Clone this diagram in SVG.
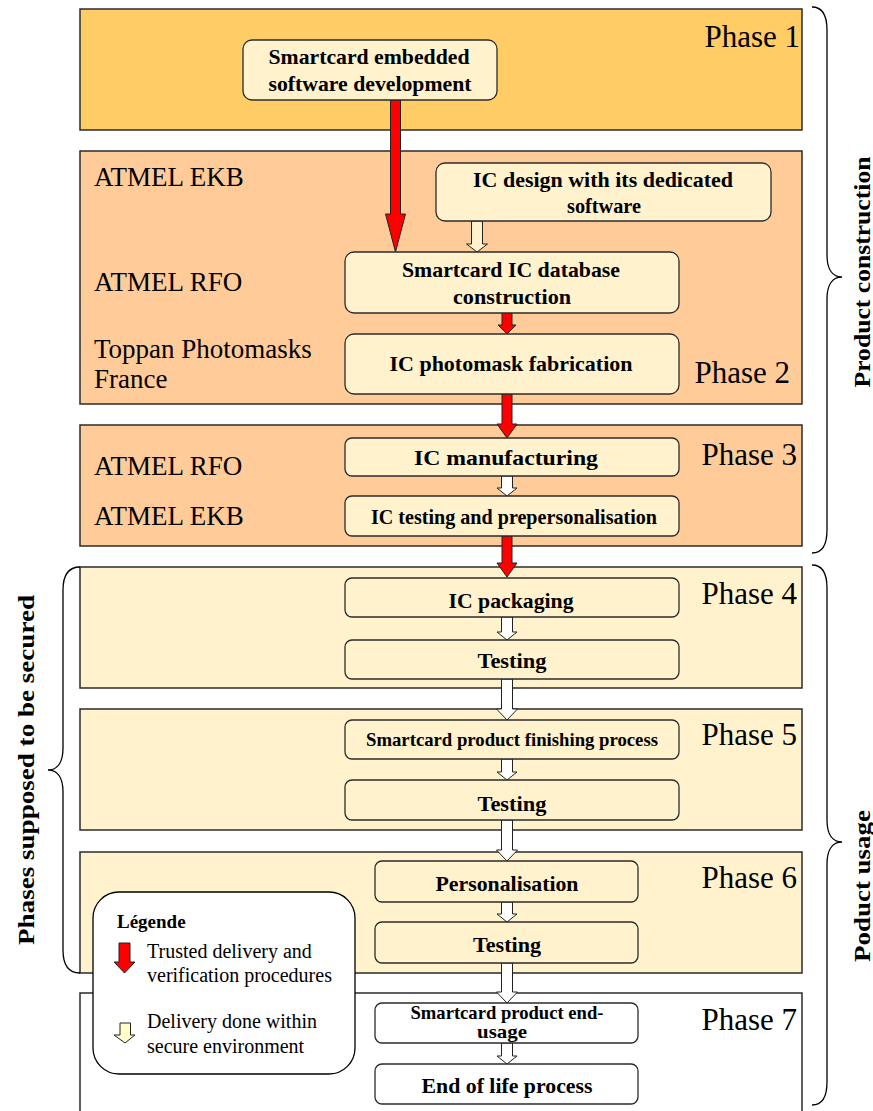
<svg xmlns="http://www.w3.org/2000/svg" width="873" height="1111" viewBox="0 0 873 1111">
<style>
text{font-family:'Liberation Serif','Times New Roman',Tinos,'DejaVu Serif',serif}
.phase{stroke:#2b2b2b;stroke-width:1.5}
.node{fill:#FFF2CC;stroke:#2b2b2b;stroke-width:1.3}
.ph{font-size:31px;text-anchor:end;fill:#000}
.lab{font-size:27px;fill:#000}
.nt{font-size:21px;font-weight:bold;text-anchor:middle;fill:#000}
.br{font-size:24px;font-weight:bold;text-anchor:middle;fill:#000}
.lg{font-size:20px;fill:#000}
.red{fill:#FF0000;stroke:#222;stroke-width:1}
.hol{fill:#FFFFFF;stroke:#222;stroke-width:1}
.brace{fill:none;stroke:#000;stroke-width:1.3}
</style>
<rect width="873" height="1111" fill="#FFFFFF"/>
<g id="phases">
<g id="phase1"><rect class="phase" x="80" y="9" width="722" height="121" fill="#FFCC66"/><text class="ph" x="800" y="47">Phase 1</text></g>
<g id="phase2"><rect class="phase" x="80" y="151" width="722" height="253" fill="#FFCC99"/><text class="ph" x="790" y="383">Phase 2</text>
<text class="lab" x="94" y="186">ATMEL EKB</text>
<text class="lab" x="94" y="291">ATMEL RFO</text>
<text class="lab" x="94" y="358">Toppan Photomasks</text>
<text class="lab" x="94" y="388">France</text></g>
<g id="phase3"><rect class="phase" x="80" y="425" width="722" height="121" fill="#FFCC99"/><text class="ph" x="797" y="465">Phase 3</text>
<text class="lab" x="94" y="475">ATMEL RFO</text>
<text class="lab" x="94" y="525">ATMEL EKB</text></g>
<g id="phase4"><rect class="phase" x="80" y="567" width="722" height="121" fill="#FFF2CC"/><text class="ph" x="797" y="604">Phase 4</text></g>
<g id="phase5"><rect class="phase" x="80" y="709" width="722" height="121" fill="#FFF2CC"/><text class="ph" x="797" y="745">Phase 5</text></g>
<g id="phase6"><rect class="phase" x="80" y="852" width="722" height="121" fill="#FFF2CC"/><text class="ph" x="797" y="888">Phase 6</text></g>
<g id="phase7"><rect class="phase" x="80" y="993" width="722" height="130" fill="#FFFFFF"/><text class="ph" x="797" y="1030">Phase 7</text></g>
</g>
<g id="braces">
<path class="brace" d="M80 567 C69 567 63 574 63 590 L63 748 C63 763 57 770 48 770 C57 770 63 777 63 792 L63 950 C63 966 69 973 80 973"/>
<path class="brace" d="M812 7 C822 7 827 14 827 30 L827 255 C827 270 833 277 842 277 C833 277 827 284 827 299 L827 530 C827 546 822 553 812 553"/>
<path class="brace" d="M812 565 C822 565 827 572 827 588 L827 820 C827 835 833 842 842 842 C833 842 827 849 827 864 L827 1082 C827 1098 822 1105 812 1105"/>
<text class="br" transform="translate(870 272) rotate(-90)" textLength="231" lengthAdjust="spacingAndGlyphs">Product construction</text>
<text class="br" transform="translate(870 886) rotate(-90)" textLength="152" lengthAdjust="spacingAndGlyphs">Poduct usage</text>
<text class="br" transform="translate(34 770) rotate(-90)" textLength="350" lengthAdjust="spacingAndGlyphs">Phases supposed to be secured</text>
</g>
<g id="connectors">
<path class="red" d="M390.5 100 L400.5 100 L400.5 214 L405.5 214 L395.5 252 L385.5 214 L390.5 214 Z"/>
<path class="red" d="M502 313 L512 313 L512 325 L516 325 L507 334 L498 325 L502 325 Z"/>
<path class="red" d="M502 394 L512 394 L512 424 L517 424 L507 438 L497 424 L502 424 Z"/>
<path class="red" d="M502 536 L512 536 L512 563 L517 563 L507 577 L497 563 L502 563 Z"/>
<path class="hol" style="fill:#FFF2CC" d="M471.5 221 L482.5 221 L482.5 244 L487.5 244 L477 252 L466.5 244 L471.5 244 Z"/>
<path class="hol" d="M501.5 476 L512.5 476 L512.5 488 L517 488 L507 496 L497 488 L501.5 488 Z"/>
<path class="hol" d="M501.5 617 L512.5 617 L512.5 632 L517 632 L507 640 L497 632 L501.5 632 Z"/>
<path class="hol" d="M501.5 679 L512.5 679 L512.5 709 L517.5 709 L507 720 L496.5 709 L501.5 709 Z"/>
<path class="hol" d="M501.5 759 L512.5 759 L512.5 772 L517 772 L507 780 L497 772 L501.5 772 Z"/>
<path class="hol" d="M501.5 820 L512.5 820 L512.5 850 L517.5 850 L507 861 L496.5 850 L501.5 850 Z"/>
<path class="hol" d="M501.5 902 L512.5 902 L512.5 914 L517 914 L507 922 L497 914 L501.5 914 Z"/>
<path class="hol" d="M501.5 963 L512.5 963 L512.5 992 L517.5 992 L507 1003 L496.5 992 L501.5 992 Z"/>
<path class="hol" d="M501.5 1043 L512.5 1043 L512.5 1056 L517 1056 L507 1064 L497 1056 L501.5 1056 Z"/>
</g>
<g id="n-software"><rect class="node" x="243" y="40" width="254" height="60" rx="9"/><text class="nt" x="369" y="64" textLength="201" lengthAdjust="spacingAndGlyphs">Smartcard embedded</text><text class="nt" x="370" y="91" textLength="203" lengthAdjust="spacingAndGlyphs">software development</text></g>
<g id="n-icdesign"><rect class="node" x="436" y="163" width="335" height="58" rx="9"/><text class="nt" x="603" y="187" textLength="260" lengthAdjust="spacingAndGlyphs">IC design with its dedicated</text><text class="nt" x="604" y="213" textLength="74" lengthAdjust="spacingAndGlyphs">software</text></g>
<g id="n-database"><rect class="node" x="345" y="252" width="334" height="61" rx="9"/><text class="nt" x="511" y="277" textLength="218" lengthAdjust="spacingAndGlyphs">Smartcard IC database</text><text class="nt" x="512" y="304" textLength="118" lengthAdjust="spacingAndGlyphs">construction</text></g>
<g id="n-photomask"><rect class="node" x="345" y="334" width="334" height="60" rx="9"/><text class="nt" x="511" y="371" textLength="243" lengthAdjust="spacingAndGlyphs">IC photomask fabrication</text></g>
<g id="n-manufacturing"><rect class="node" x="345" y="438" width="334" height="38" rx="7"/><text class="nt" x="506" y="465" textLength="184" lengthAdjust="spacingAndGlyphs">IC manufacturing</text></g>
<g id="n-testing-pre"><rect class="node" x="345" y="496" width="334" height="40" rx="7"/><text class="nt" x="514" y="524" textLength="286" lengthAdjust="spacingAndGlyphs">IC testing and prepersonalisation</text></g>
<g id="n-packaging"><rect class="node" x="345" y="578" width="334" height="39" rx="7"/><text class="nt" x="511" y="608" textLength="125" lengthAdjust="spacingAndGlyphs">IC packaging</text></g>
<g id="n-testing4"><rect class="node" x="345" y="640" width="334" height="39" rx="7"/><text class="nt" x="512" y="668" textLength="69" lengthAdjust="spacingAndGlyphs">Testing</text></g>
<g id="n-finishing"><rect class="node" x="345" y="720" width="334" height="39" rx="7"/><text class="nt" x="512" y="746" style="font-size:19px" textLength="292" lengthAdjust="spacingAndGlyphs">Smartcard product finishing process</text></g>
<g id="n-testing5"><rect class="node" x="345" y="780" width="334" height="40" rx="7"/><text class="nt" x="512" y="811" textLength="69" lengthAdjust="spacingAndGlyphs">Testing</text></g>
<g id="n-personalisation"><rect class="node" x="375" y="861" width="263" height="41" rx="7"/><text class="nt" x="507" y="891" textLength="143" lengthAdjust="spacingAndGlyphs">Personalisation</text></g>
<g id="n-testing6"><rect class="node" x="375" y="922" width="263" height="41" rx="7"/><text class="nt" x="507" y="952" textLength="68" lengthAdjust="spacingAndGlyphs">Testing</text></g>
<g id="n-enduse"><rect class="node" x="375" y="1003" width="263" height="40" rx="7" style="fill:#FFFFFF"/><text class="nt" x="507" y="1019" style="font-size:19px" textLength="193" lengthAdjust="spacingAndGlyphs">Smartcard product end-</text><text class="nt" x="502" y="1038" style="font-size:19px" textLength="50" lengthAdjust="spacingAndGlyphs">usage</text></g>
<g id="n-endlife"><rect class="node" x="375" y="1064" width="263" height="40" rx="7" style="fill:#FFFFFF"/><text class="nt" x="507" y="1093" textLength="171" lengthAdjust="spacingAndGlyphs">End of life process</text></g>
<g id="legend">
<rect x="93" y="892" width="262" height="182" rx="26" fill="#FFFFFF" stroke="#000" stroke-width="1.3"/>
<text class="lg" x="117" y="928" style="font-weight:bold;font-size:19px">Légende</text>
<path class="red" d="M119 943 L130 943 L130 962 L135 962 L124.5 973 L114 962 L119 962 Z"/>
<text class="lg" x="147" y="958">Trusted delivery and</text>
<text class="lg" x="147" y="982">verification procedures</text>
<path class="hol" style="fill:#FFFFCC" d="M120 1023 L130.5 1023 L130.5 1035 L135 1035 L125 1043 L114 1035 L120 1035 Z"/>
<text class="lg" x="147" y="1028">Delivery done within</text>
<text class="lg" x="147" y="1053">secure environment</text>
</g>
</svg>
